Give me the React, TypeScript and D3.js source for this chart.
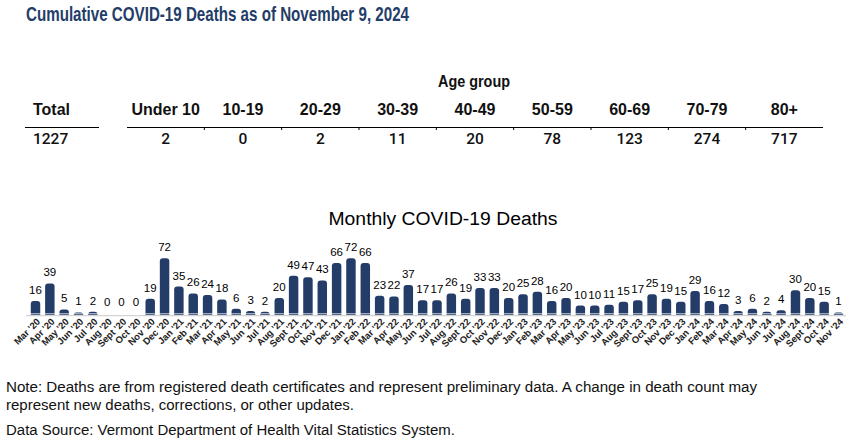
import React from "react";
import * as d3 from "d3";

// Monthly deaths, March 2020 through November 2024
const months = [
  "Mar '20", "Apr '20", "May '20", "Jun '20", "Jul '20", "Aug '20", "Sept '20", "Oct '20", "Nov '20", "Dec '20",
  "Jan '21", "Feb '21", "Mar '21", "Apr '21", "May '21", "Jun '21", "Jul '21", "Aug '21", "Sept '21", "Oct '21", "Nov '21", "Dec '21",
  "Jan '22", "Feb '22", "Mar '22", "Apr '22", "May '22", "Jun '22", "Jul '22", "Aug '22", "Sept '22", "Oct '22", "Nov '22", "Dec '22",
  "Jan '23", "Feb '23", "Mar '23", "Apr '23", "May '23", "Jun '23", "Jul '23", "Aug '23", "Sept '23", "Oct '23", "Nov '23", "Dec '23",
  "Jan '24", "Feb '24", "Mar '24", "Apr '24", "May '24", "Jun '24", "Jul '24", "Aug '24", "Sept '24", "Oct '24", "Nov '24",
];
const monthlyDeaths = [
  16, 39, 5, 1, 2, 0, 0, 0, 19, 72,
  35, 26, 24, 18, 6, 3, 2, 20, 49, 47, 43, 66,
  72, 66, 23, 22, 37, 17, 17, 26, 19, 33, 33, 20,
  25, 28, 16, 20, 10, 10, 11, 15, 17, 25, 19, 15,
  29, 16, 12, 3, 6, 2, 4, 30, 20, 15, 1,
];

// Cumulative deaths by age group
const ageGroups = ["Under 10", "10-19", "20-29", "30-39", "40-49", "50-59", "60-69", "70-79", "80+"];
const ageDeaths = [2, 0, 2, 11, 20, 78, 123, 274, 717];
const totalLabel = "Total";
const totalDeaths = 1227;

const NAVY = "#243d68";
const SANS = "'Liberation Sans', Arial, sans-serif";
const NARROW = "'Liberation Sans Narrow', 'Liberation Sans', Arial, sans-serif";
const NUM = "Roboto, 'Liberation Sans', Arial, sans-serif";

function roundedTopBar(x: number, y: number, w: number, h: number, r: number) {
  const rr = Math.max(0, Math.min(r, h, w / 2));
  return `M${x},${y + h}V${y + rr}Q${x},${y} ${x + rr},${y}H${x + w - rr}Q${x + w},${y} ${x + w},${y + rr}V${y + h}Z`;
}

export default function App() {
  const width = 846;
  const height = 443;

  // Age table columns
  const col = d3.scaleBand<string>().domain(ageGroups).range([127, 823]);
  const colBounds = ageGroups.slice(1).map((g) => col(g) as number);

  // Monthly bar chart
  const x = d3.scalePoint<string>().domain(months).range([35.5, 838.5]);
  const barW = x.step() * 0.66;
  const y = d3.scaleLinear().domain([0, 72]).range([313.2, 258.3]);
  const base = 315;

  return (
    <svg
      width={width}
      height={height}
      style={{ position: "absolute", left: 0, top: 0, display: "block", background: "#fff" }}
    >
      {/* Title */}
      <text
        x={26}
        y={21}
        fill={NAVY}
        fontFamily={NARROW}
        fontWeight="bold"
        fontSize={20.5}
        textLength={383}
        lengthAdjust="spacingAndGlyphs"
      >
        Cumulative COVID-19 Deaths as of November 9, 2024
      </text>

      {/* Age table */}
      <text x={438} y={87} fontFamily={NARROW} fontWeight="bold" fontSize={16} fill="#111" textLength={72} lengthAdjust="spacingAndGlyphs">
        Age group
      </text>
      <text x={33} y={115} fontFamily={NARROW} fontWeight="bold" fontSize={16} fill="#111">
        {totalLabel}
      </text>
      <line x1={25} x2={99} y1={127.5} y2={127.5} stroke="#000" strokeWidth={1.2} />
      <text x={33} y={143.5} fontFamily={NUM} fontWeight={500} fontSize={15.5} fill="#111">
        {totalDeaths}
      </text>
      {ageGroups.map((g, i) => {
        const cx = (col(g) as number) + col.bandwidth() / 2;
        return (
          <g key={g}>
            <text x={cx} y={115} textAnchor="middle" fontFamily={NARROW} fontWeight="bold" fontSize={16} fill="#111">
              {g}
            </text>
            <text x={cx} y={143.5} textAnchor="middle" fontFamily={NUM} fontWeight={500} fontSize={15.5} fill="#111">
              {ageDeaths[i]}
            </text>
          </g>
        );
      })}
      <line x1={127} x2={823} y1={127.5} y2={127.5} stroke="#000" strokeWidth={1.2} />
      {colBounds.map((bx, i) => (
        <line key={i} x1={bx} x2={bx} y1={127.5} y2={130} stroke="#000" strokeWidth={1} />
      ))}

      {/* Chart title */}
      <text
        x={443}
        y={225}
        textAnchor="middle"
        fontFamily={SANS}
        fontSize={18}
        fill="#000"
        textLength={229}
        lengthAdjust="spacingAndGlyphs"
      >
        Monthly COVID-19 Deaths
      </text>

      {/* Bars */}
      {months.map((m, i) => {
        const v = monthlyDeaths[i];
        const cx = x(m) as number;
        const top = y(v);
        return (
          <g key={m}>
            {v > 0 && (
              <path d={roundedTopBar(cx - barW / 2, top, barW, base - top, 3)} fill={NAVY} />
            )}
            <text x={cx} y={top - 7} textAnchor="middle" fontFamily={SANS} fontSize={11.5} fill="#000">
              {v}
            </text>
          </g>
        );
      })}
      <line x1={26} x2={846} y1={313.8} y2={313.8} stroke="#fff" strokeWidth={0.8} />
      <line x1={26} x2={846} y1={315.6} y2={315.6} stroke="#d4d4d4" strokeWidth={1.4} />

      {/* Month labels */}
      {months.map((m) => {
        const cx = x(m) as number;
        return (
          <text
            key={m}
            transform={`translate(${cx + 3},${320}) rotate(-45)`}
            textAnchor="end"
            dy="0.35em"
            fontFamily={NARROW}
            fontWeight="bold"
            fontSize={9.5}
            fill="#222"
          >
            {m}
          </text>
        );
      })}

      {/* Notes */}
      <text x={6} y={391.5} fontFamily={NARROW} fontSize={14} fill="#111" textLength={751} lengthAdjust="spacingAndGlyphs">
        Note: Deaths are from registered death certificates and represent preliminary data. A change in death count may
      </text>
      <text x={6} y={409.5} fontFamily={NARROW} fontSize={14} fill="#111" textLength={348} lengthAdjust="spacingAndGlyphs">
        represent new deaths, corrections, or other updates.
      </text>
      <text x={6} y={435} fontFamily={NARROW} fontSize={14} fill="#111" textLength={449} lengthAdjust="spacingAndGlyphs">
        Data Source: Vermont Department of Health Vital Statistics System.
      </text>
    </svg>
  );
}
